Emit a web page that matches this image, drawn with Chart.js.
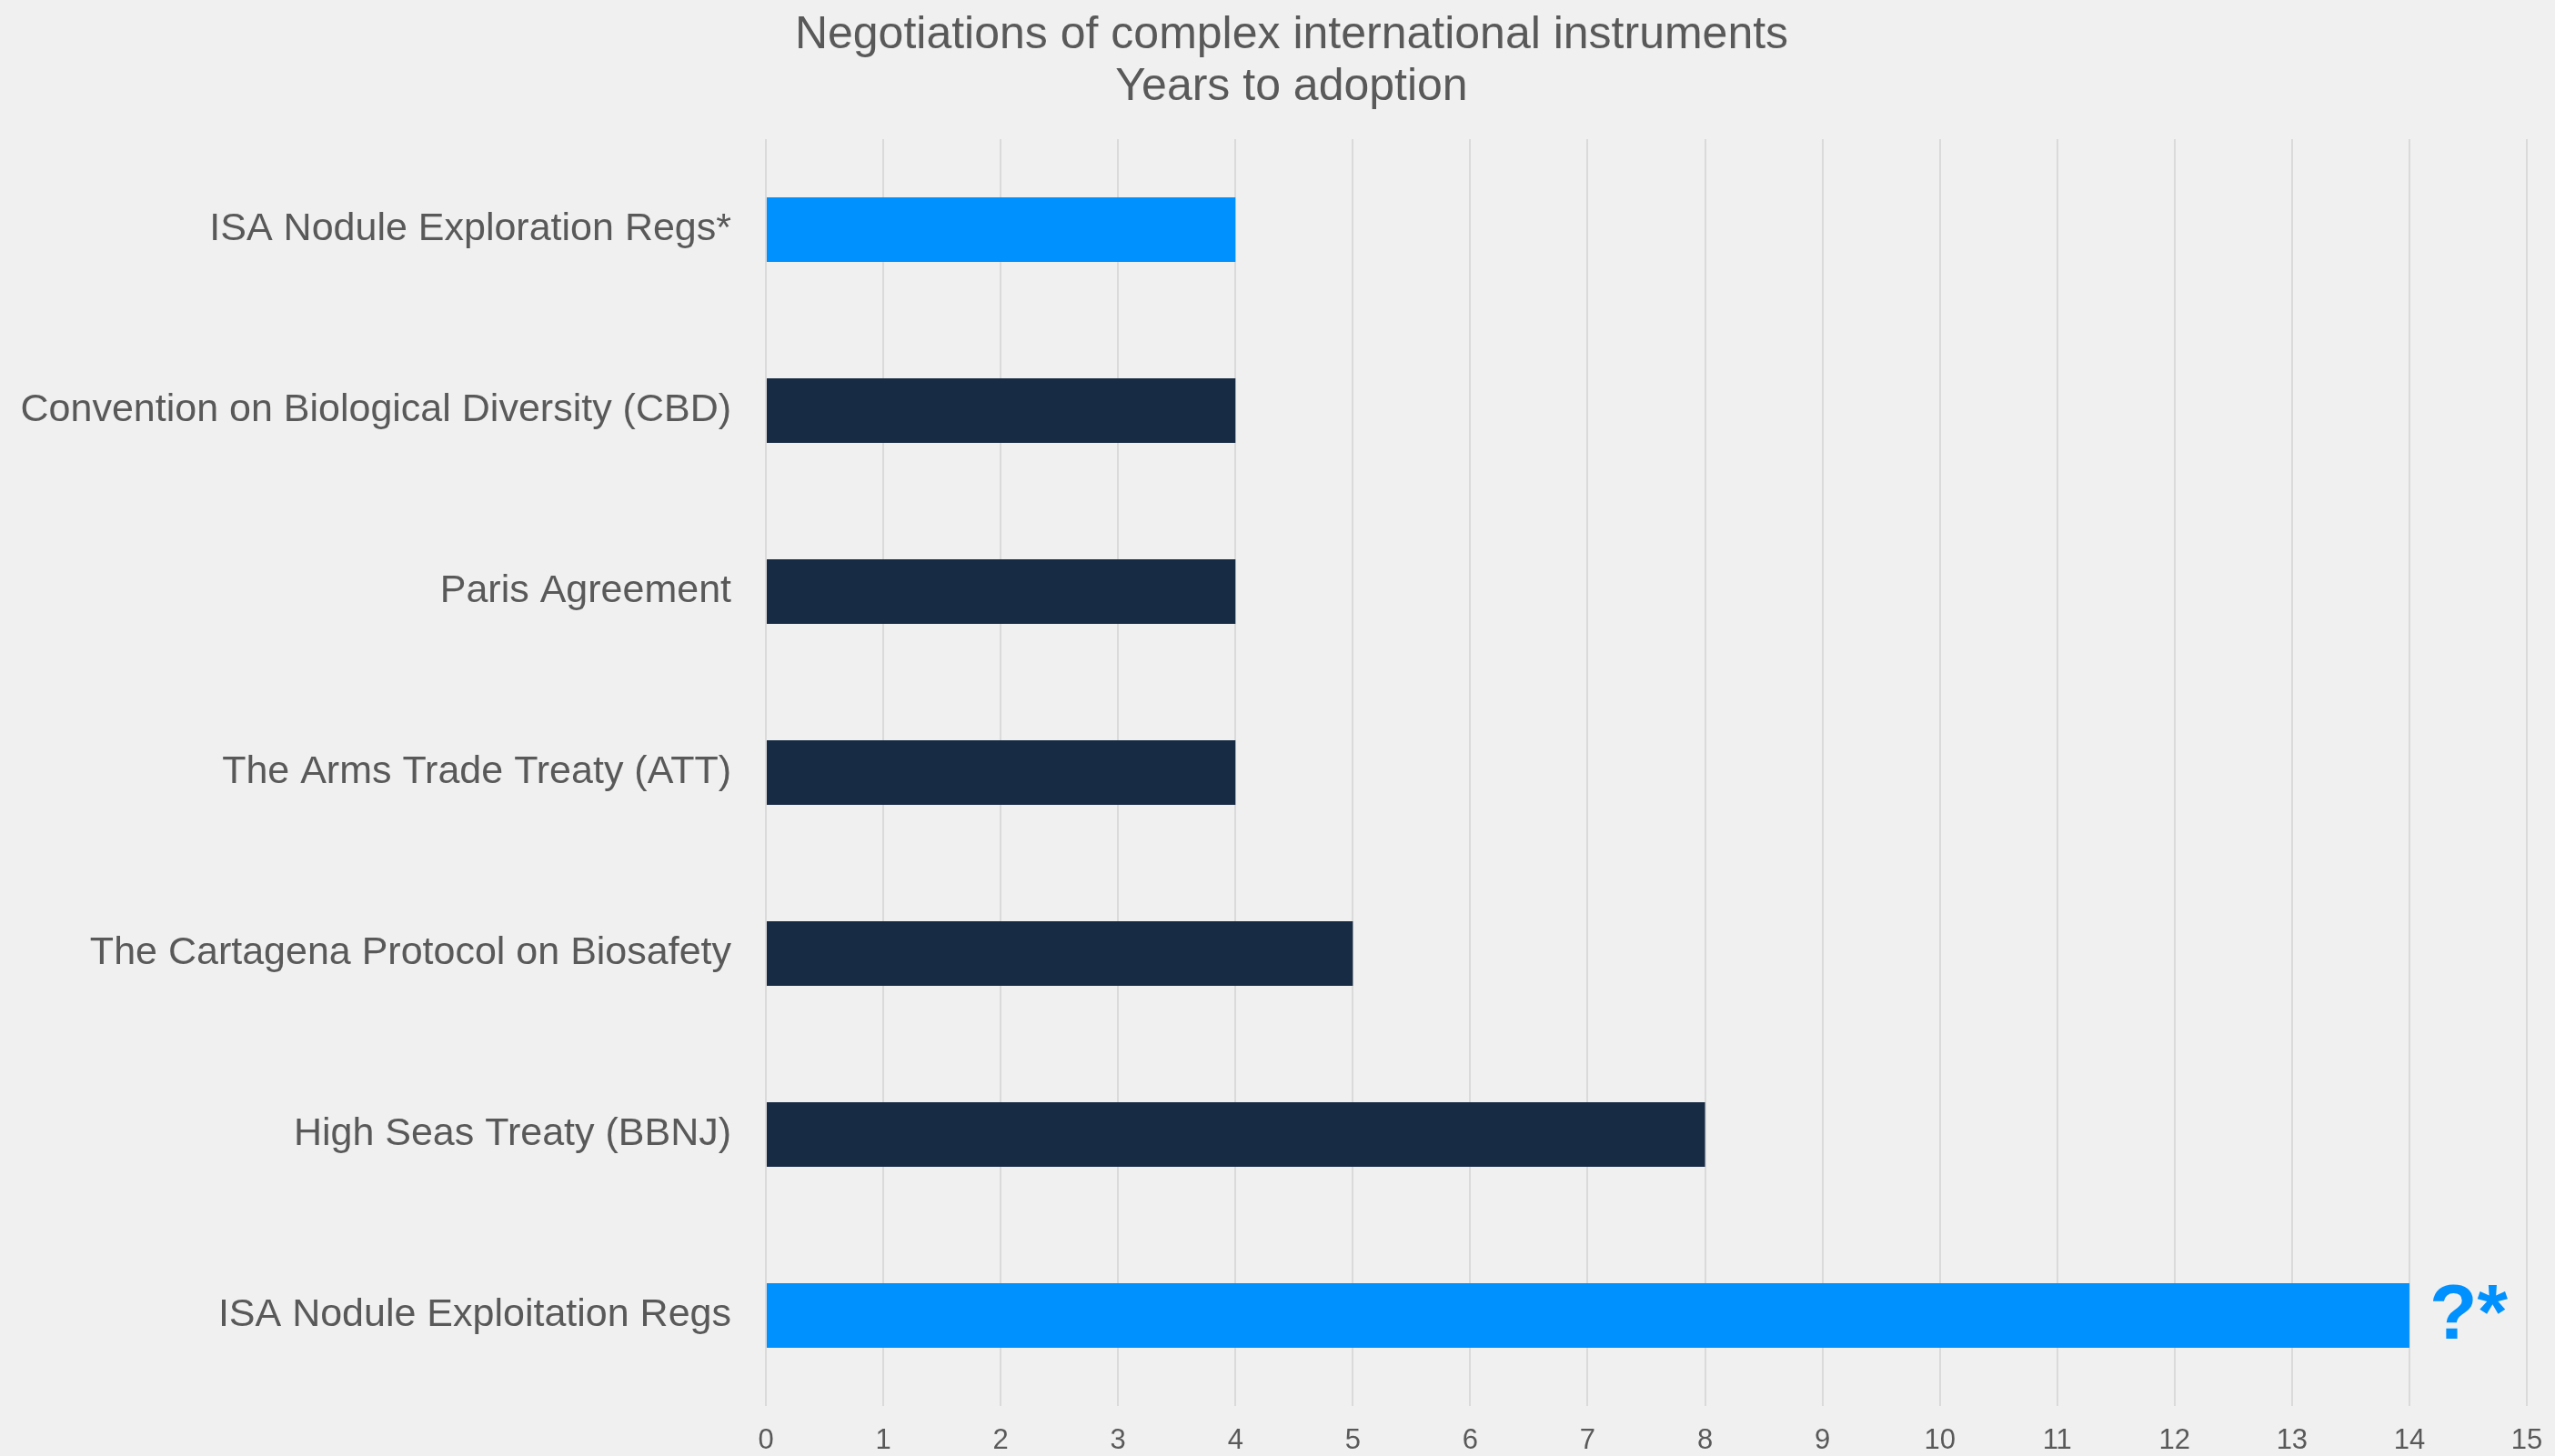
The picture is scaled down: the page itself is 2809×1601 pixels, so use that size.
<!DOCTYPE html>
<html>
<head>
<meta charset="utf-8">
<title>Negotiations of complex international instruments</title>
<script src="https://cdn.jsdelivr.net/npm/chart.js@4/dist/chart.umd.min.js"></script>
<style>
  html, body { margin: 0; padding: 0; background: #f0f0f0; overflow: hidden; }
  canvas { display: block; }
</style>
</head>
<body>
<canvas id="bar_chart" width="2809" height="1601"></canvas>
<script>
// data
var instruments = [
  "ISA Nodule Exploration Regs*",
  "Convention on Biological Diversity (CBD)",
  "Paris Agreement",
  "The Arms Trade Treaty (ATT)",
  "The Cartagena Protocol on Biosafety",
  "High Seas Treaty (BBNJ)",
  "ISA Nodule Exploitation Regs"
];
var yearsToAdoption = [4, 4, 4, 4, 5, 8, 14];
var barNotes = ["", "", "", "", "", "", "?*"];
var xTicks = [0, 1, 2, 3, 4, 5, 6, 7, 8, 9, 10, 11, 12, 13, 14, 15];
var titleLines = ["Negotiations of complex international instruments", "Years to adoption"];

// styles
var blue = "#0091ff";
var navy = "#182b45";
var barColors = [blue, navy, navy, navy, navy, navy, blue];
var greyText = "#595959";
var fontName = "'Liberation Sans', Arial, sans-serif";

Chart.defaults.font.family = fontName;

// no automatic room for overhanging tick labels, layout padding decides
function noOverhang(axis) {
  axis.paddingLeft = 0;
  axis.paddingRight = 0;
  axis.paddingTop = 0;
  axis.paddingBottom = 0;
}

// writes the "?*" note past the end of a bar
var notePlugin = {
  id: "barNotes",
  afterLayout: function(chart) {
    // title sits a bit right of the canvas centre in the original
    if (chart.titleBlock) {
      chart.titleBlock.left += 31;
      chart.titleBlock.right += 31;
    }
  },
  afterDatasetsDraw: function(chart) {
    var ctx = chart.ctx;
    var meta = chart.getDatasetMeta(0);
    ctx.save();
    ctx.font = "bold 86px " + fontName;
    ctx.fillStyle = blue;
    ctx.textAlign = "left";
    ctx.textBaseline = "middle";
    meta.data.forEach(function(bar, i) {
      if (!barNotes[i]) return;
      ctx.fillText(barNotes[i], bar.x + 22, bar.y + 2);
    });
    ctx.restore();
  }
};

var chart = new Chart(document.getElementById("bar_chart"), {
  type: "bar",
  data: {
    labels: instruments,
    datasets: [{
      data: yearsToAdoption,
      backgroundColor: barColors,
      borderWidth: 0,
      categoryPercentage: 1,
      barPercentage: 0.357
    }]
  },
  options: {
    indexAxis: "y",
    responsive: false,
    devicePixelRatio: 1,
    animation: false,
    layout: { padding: { left: 0, right: 31, top: 0, bottom: 0 } },
    scales: {
      x: {
        min: 0,
        max: 15,
        afterBuildTicks: function(axis) {
          axis.ticks = xTicks.map(function(v) { return { value: v }; });
        },
        afterFit: function(axis) { axis.height = 55; noOverhang(axis); },
        grid: { color: "#dadada", lineWidth: 2, drawTicks: false },
        border: { display: false },
        ticks: { color: greyText, font: { size: 31 }, padding: 20 }
      },
      y: {
        afterFit: function(axis) { axis.width = 842; noOverhang(axis); },
        grid: { display: false, drawTicks: false },
        border: { display: false },
        ticks: { color: greyText, font: { size: 43 }, padding: 38 }
      }
    },
    plugins: {
      legend: { display: false },
      tooltip: { enabled: false },
      title: {
        display: true,
        text: titleLines,
        color: greyText,
        font: { size: 50, weight: "normal", lineHeight: 1.15 },
        padding: { top: 10, bottom: 28 }
      }
    }
  },
  plugins: [notePlugin]
});
</script>
</body>
</html>
